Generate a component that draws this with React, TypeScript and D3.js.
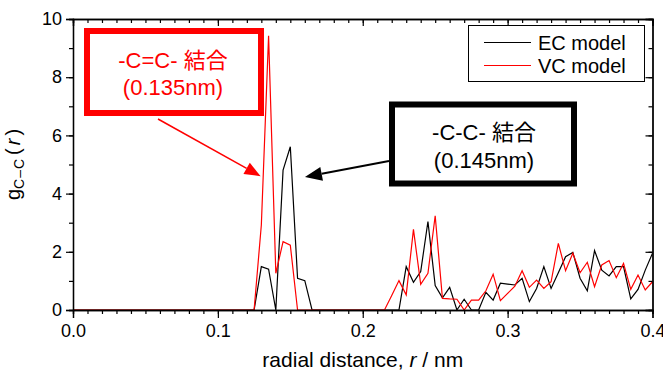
import React, { useEffect, useRef } from 'react';
import * as d3 from 'd3';

// radial distance samples (nm)
const radius = [
  0.000, 0.005, 0.010, 0.015, 0.020, 0.025, 0.030, 0.035, 0.040, 0.045,
  0.050, 0.055, 0.060, 0.065, 0.070, 0.075, 0.080, 0.085, 0.090, 0.095,
  0.100, 0.105, 0.110, 0.115, 0.120, 0.125, 0.130, 0.135, 0.140, 0.145,
  0.150, 0.155, 0.160, 0.165, 0.170, 0.175, 0.180, 0.185, 0.190, 0.195,
  0.200, 0.205, 0.210, 0.215, 0.220, 0.225, 0.230, 0.235, 0.240, 0.245,
  0.250, 0.255, 0.260, 0.265, 0.270, 0.275, 0.280, 0.285, 0.290, 0.295,
  0.300, 0.305, 0.310, 0.315, 0.320, 0.325, 0.330, 0.335, 0.340, 0.345,
  0.350, 0.355, 0.360, 0.365, 0.370, 0.375, 0.380, 0.385, 0.390, 0.395,
  0.400,
];

// g_C-C(r), EC model (black)
const ecModel = [
  0, 0, 0, 0, 0, 0, 0, 0, 0, 0,
  0, 0, 0, 0, 0, 0, 0, 0, 0, 0,
  0, 0, 0, 0, 0, 0, 1.49, 1.40, 0, 4.81,
  5.61, 1.09, 1.01, 0, 0, 0, 0, 0, 0, 0,
  0, 0, 0, 0, 0, 0, 1.49, 0.95, 1.32, 3.04,
  0.84, 0.42, 0.78, 0, 0.37, 0, 0, 0.61, 0.34, 0.92,
  0.89, 0.86, 1.09, 0.29, 0.74, 1.49, 0.74, 1.28, 1.83, 1.98,
  1.09, 0.66, 2.04, 1.37, 1.17, 1.49, 1.49, 0.38, 0.71, 1.37,
  1.95,
];

// g_C-C(r), VC model (red)
const vcModel = [
  0, 0, 0, 0, 0, 0, 0, 0, 0, 0,
  0, 0, 0, 0, 0, 0, 0, 0, 0, 0,
  0, 0, 0, 0, 0, 0, 2.92, 9.42, 1.26, 2.35,
  2.23, 0, 0, 0, 0, 0, 0, 0, 0, 0,
  0, 0, 0, 0, 0.5, 1.01, 0.52, 2.77, 0.88, 1.26,
  3.24, 0.40, 0.38, 0.37, 0, 0.34, 0.34, 0.66, 1.23, 0.32,
  0.57, 0.82, 1.35, 0.78, 1.03, 0.74, 0.97, 2.29, 1.35, 1.95,
  1.28, 1.64, 0.80, 1.55, 1.70, 1.11, 1.60, 0.71, 1.20, 0.69,
  0.97,
];

const xMajor = [0, 0.1, 0.2, 0.3, 0.4];
const yMajor = [0, 2, 4, 6, 8, 10];
const seriesNames = ['EC model', 'VC model'];

const FONT = '"Liberation Sans", Arial, "Noto Sans CJK JP", sans-serif';

export default function App() {
  const svgRef = useRef<SVGSVGElement>(null);

  useEffect(() => {
    const W = 663, H = 372;
    const margin = { top: 19, right: 10.5, bottom: 62, left: 73 };
    const width = W - margin.left - margin.right;
    const height = H - margin.top - margin.bottom;

    const svg = d3.select(svgRef.current);
    svg.selectAll('*').remove();
    svg.attr('width', W).attr('height', H);

    const g = svg.append('g').attr('transform', `translate(${margin.left},${margin.top})`);

    const x = d3.scaleLinear().domain([0, 0.4]).range([0, width]);
    const y = d3.scaleLinear().domain([0, 10]).range([height, 0]);

    const xMinor = d3.range(0, 0.4001, 0.01);
    const yMinor = d3.range(0, 10.001, 1);

    const styleAxis = (sel: any) => {
      sel.select('.domain').attr('stroke', '#000').attr('stroke-width', 1.3);
      sel.selectAll('.tick line').attr('stroke', '#000').attr('stroke-width', 1.2);
      sel.selectAll('.tick text').attr('fill', '#000').attr('font-family', FONT).attr('font-size', 18);
    };

    // data lines
    const line = d3.line<number>()
      .x((_, i) => x(radius[i]))
      .y(d => y(d));

    g.append('path').datum(ecModel)
      .attr('fill', 'none').attr('stroke', '#000').attr('stroke-width', 1.2)
      .attr('d', line);
    g.append('path').datum(vcModel)
      .attr('fill', 'none').attr('stroke', '#ff0000').attr('stroke-width', 1.2)
      .attr('d', line);

    // bottom axis
    g.append('g').attr('transform', `translate(0,${height})`)
      .call(d3.axisBottom(x).tickValues(xMinor).tickSize(4).tickFormat(() => ''))
      .call(styleAxis);
    g.append('g').attr('transform', `translate(0,${height})`)
      .call(d3.axisBottom(x).tickValues(xMajor).tickSize(8).tickPadding(6).tickFormat(d3.format('.1f')))
      .call(styleAxis);
    // top axis (inward)
    g.append('g')
      .call(d3.axisTop(x).tickValues(xMinor).tickSize(-4).tickFormat(() => ''))
      .call(styleAxis);
    g.append('g')
      .call(d3.axisTop(x).tickValues(xMajor).tickSize(-7).tickFormat(() => ''))
      .call(styleAxis);
    // left axis
    g.append('g')
      .call(d3.axisLeft(y).tickValues(yMinor).tickSize(4).tickFormat(() => ''))
      .call(styleAxis);
    g.append('g')
      .call(d3.axisLeft(y).tickValues(yMajor).tickSize(7).tickPadding(4).tickFormat(d3.format('d')))
      .call(styleAxis);
    // right axis (inward)
    g.append('g').attr('transform', `translate(${width},0)`)
      .call(d3.axisRight(y).tickValues(yMinor).tickSize(-4).tickFormat(() => ''))
      .call(styleAxis);
    g.append('g').attr('transform', `translate(${width},0)`)
      .call(d3.axisRight(y).tickValues(yMajor).tickSize(-7).tickFormat(() => ''))
      .call(styleAxis);

    // x axis title
    const xt = svg.append('text')
      .attr('x', margin.left + width / 2).attr('y', 367)
      .attr('text-anchor', 'middle').attr('font-family', FONT).attr('font-size', 21);
    xt.append('tspan').text('radial distance, ');
    xt.append('tspan').attr('font-style', 'italic').text('r');
    xt.append('tspan').text(' / nm');

    // y axis title
    const yt = svg.append('text')
      .attr('transform', `translate(20,${margin.top + height / 2}) rotate(-90)`)
      .attr('text-anchor', 'middle').attr('font-family', FONT).attr('font-size', 20);
    yt.append('tspan').text('g');
    yt.append('tspan').attr('font-size', 14).attr('dy', 4).attr('letter-spacing', 1).text('C–C');
    yt.append('tspan').attr('dy', -4).attr('dx', 3).text('(');
    yt.append('tspan').attr('font-style', 'italic').attr('dx', 3).text('r');
    yt.append('tspan').attr('dx', 3).text(')');

    // legend
    const leg = svg.append('g');
    leg.append('rect').attr('x', 468.5).attr('y', 25.5).attr('width', 176).attr('height', 56)
      .attr('fill', '#fff').attr('stroke', '#000').attr('stroke-width', 1);
    const legColors = ['#000', '#ff0000'];
    seriesNames.forEach((name, i) => {
      const ly = 42.5 + i * 23;
      leg.append('line').attr('x1', 484).attr('x2', 531).attr('y1', ly).attr('y2', ly)
        .attr('stroke', legColors[i]).attr('stroke-width', 1.2);
      leg.append('text').attr('x', 538).attr('y', ly + 7)
        .attr('font-family', FONT).attr('font-size', 20).text(name);
    });

    // annotation: arrow helper
    const arrow = (x1: number, y1: number, x2: number, y2: number, color: string, w: number, len: number, half: number) => {
      const dx = x2 - x1, dy = y2 - y1;
      const L = Math.hypot(dx, dy);
      const ux = dx / L, uy = dy / L;
      const bx = x2 - ux * len, by = y2 - uy * len;
      svg.append('line').attr('x1', x1).attr('y1', y1).attr('x2', bx).attr('y2', by)
        .attr('stroke', color).attr('stroke-width', w);
      svg.append('path')
        .attr('d', `M${x2},${y2}L${bx - uy * half},${by + ux * half}L${bx + uy * half},${by - ux * half}Z`)
        .attr('fill', color);
    };

    // red annotation (C=C)
    svg.append('rect').attr('x', 87).attr('y', 31).attr('width', 174).attr('height', 82)
      .attr('fill', '#fff').attr('stroke', '#ff0000').attr('stroke-width', 6);
    svg.append('text').attr('x', 173).attr('y', 68).attr('text-anchor', 'middle')
      .attr('font-family', FONT).attr('font-size', 22).attr('fill', '#ff0000').text('-C=C- 結合');
    svg.append('text').attr('x', 173).attr('y', 95).attr('text-anchor', 'middle')
      .attr('font-family', FONT).attr('font-size', 22).attr('fill', '#ff0000').text('(0.135nm)');
    arrow(158, 119, margin.left + x(0.1295), margin.top + y(4.6), '#ff0000', 1.5, 16, 6.5);

    // black annotation (C-C)
    svg.append('rect').attr('x', 392).attr('y', 104.5).attr('width', 182).attr('height', 79)
      .attr('fill', '#fff').attr('stroke', '#000').attr('stroke-width', 6);
    svg.append('text').attr('x', 484).attr('y', 140).attr('text-anchor', 'middle')
      .attr('font-family', FONT).attr('font-size', 22).attr('fill', '#000').text('-C-C- 結合');
    svg.append('text').attr('x', 484).attr('y', 168).attr('text-anchor', 'middle')
      .attr('font-family', FONT).attr('font-size', 22).attr('fill', '#000').text('(0.145nm)');
    arrow(389, 161, margin.left + x(0.1601), margin.top + y(4.57), '#000', 2, 17, 7);
  }, []);

  return (
    <svg ref={svgRef} style={{ position: 'absolute', left: 0, top: 0, display: 'block', background: '#fff' }} />
  );
}
